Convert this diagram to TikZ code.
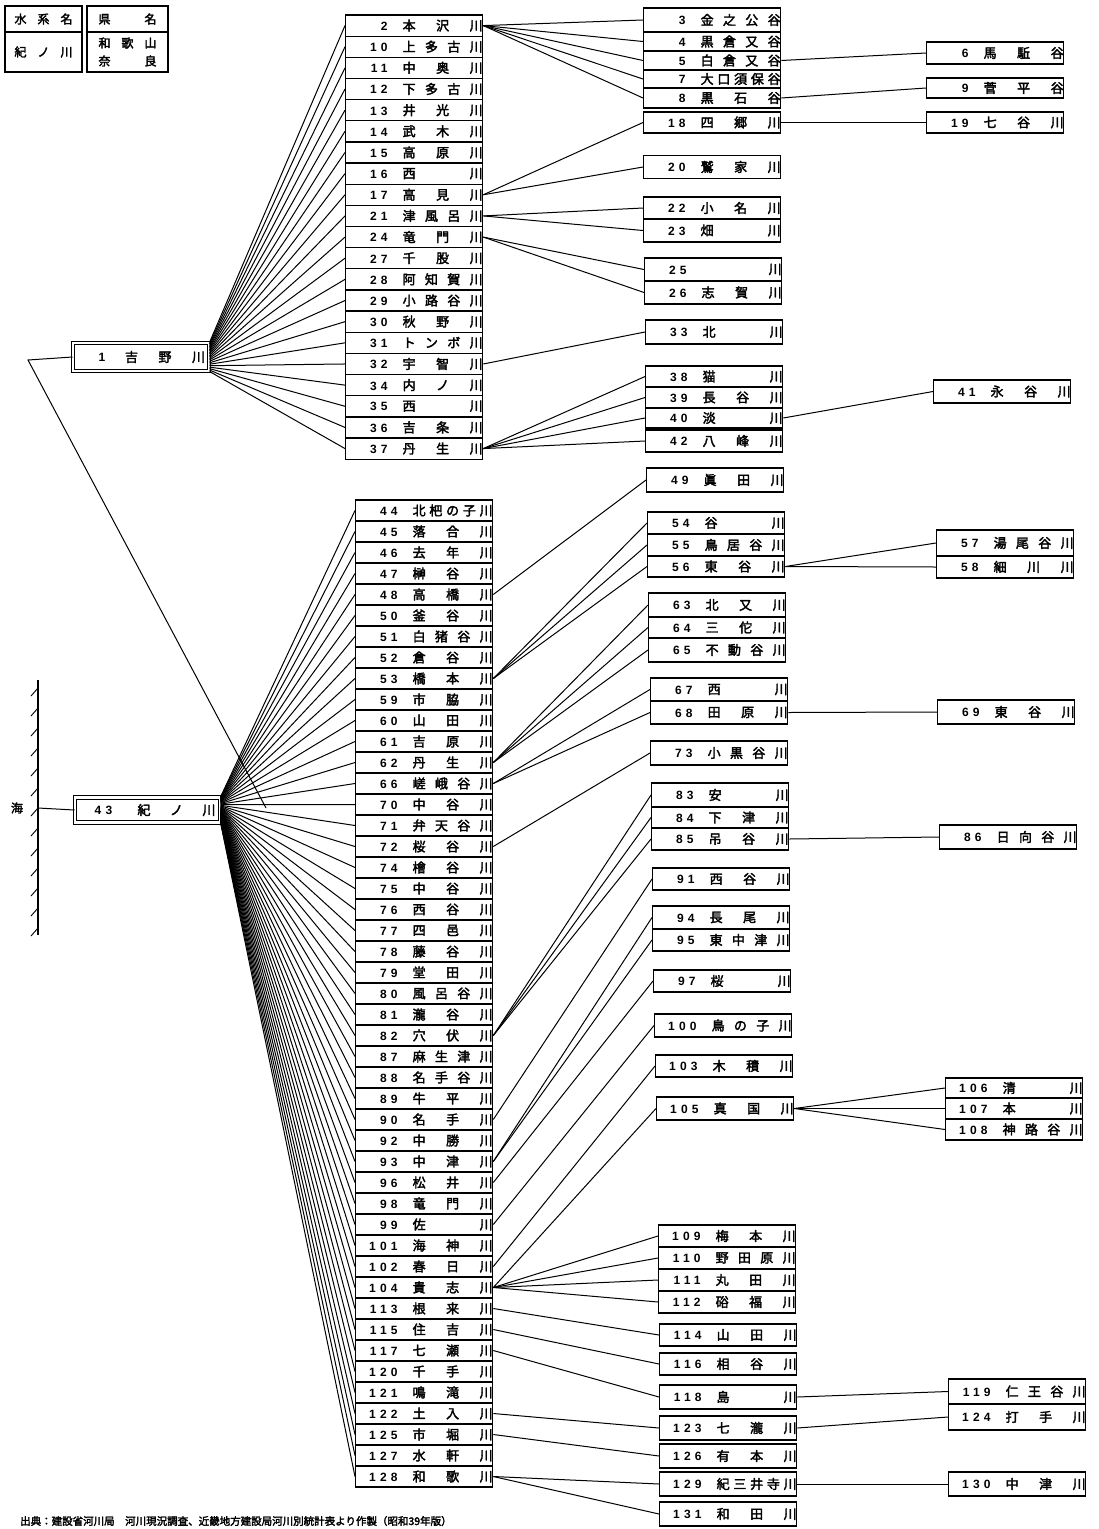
\documentclass[tikz,border=0pt]{standalone}
\usepackage{fontspec}
\setmainfont[FakeBold=2.6]{Noto Sans CJK JP}
\newfontfamily\numf[LetterSpace=35]{Liberation Sans}
\usetikzlibrary{calc}
\def\sprEnd{}
\def\spr#1{\sprA#1\sprEnd}
\def\sprA#1#2{#1\ifx\sprEnd#2\else\hfill\expandafter\sprA\expandafter#2\fi}
\newcommand\rc[2]{\makebox[42pt][r]{\numf\bfseries\fontsize{12}{12}\selectfont #1}\hspace{15pt}\makebox[80pt][s]{\expandafter\spr\expandafter{#2}}\hspace{11pt}}
\tikzset{
  cell/.style={draw, line width=1.3pt, inner sep=0pt, minimum height=21pt, anchor=west, font=\fontsize{13}{13}\selectfont},
  conn/.style={line width=1pt},
  dbl/.style={draw, double, double distance=2.2pt, line width=1pt, inner sep=0pt, font=\fontsize{13}{13}\selectfont},
  lg/.style={inner sep=0pt, font=\fontsize{12}{12}\selectfont},
}
\newcommand\bx[6]{\node[cell,minimum height=#4pt] (#1) at (#2,#3) {\rc{#5}{#6}};}
\begin{document}
\begin{tikzpicture}[x=1pt,y=-1pt]
\fill[white] (0,0) rectangle (1098,1529);
\useasboundingbox (0,0) rectangle (1098,1529);

% legend
\draw[line width=1.3pt] (5,6) rectangle (82,72);
\draw[line width=1.3pt] (87,6) rectangle (168,72);
\draw[line width=1.3pt] (5,32) -- (82,32) (87,32) -- (168,32);
\node[lg] (lg1) at (43.5,19) {\makebox[58pt][s]{\spr{水系名}}};
\node[lg] (lg2) at (43.5,52) {\makebox[58pt][s]{\spr{紀ノ川}}};
\node[lg] (lg3) at (127.5,19) {\makebox[58pt][s]{\spr{県名}}};
\node[lg] (lg4) at (127.5,43) {\makebox[58pt][s]{\spr{和歌山}}};
\node[lg] (lg5) at (127.5,61) {\makebox[58pt][s]{\spr{奈良}}};

% main rivers
\node[dbl, minimum width=136pt, minimum height=28pt] (n1) at (141,357)
  {\hspace{18pt}\makebox[14pt][c]{\numf\bfseries\fontsize{12}{12}\selectfont 1}\hspace{16pt}\makebox[80pt][s]{\spr{吉野川}}\hspace{8pt}};
\node[dbl, minimum width=145pt, minimum height=25pt] (n43) at (147.5,810)
  {\hspace{13pt}\makebox[22pt][c]{\numf\bfseries\fontsize{12}{12}\selectfont 43}\hspace{23pt}\makebox[78pt][s]{\spr{紀ノ川}}\hspace{9pt}};

% sea
\node[lg] (sea) at (17,808) {海};
\coordinate (s1) at (38,680);
\coordinate (s2) at (38,935);
\coordinate (sm) at (38,808);
\draw[line width=1.1pt] (s1) -- (s2);
\foreach \y in {688,708,...,928} \draw[line width=0.9pt] (38,\y) -- (31,\y+8);
\draw[conn] (sm) -- (n43.west);
\coordinate (cf) at (28,360);
\coordinate (jn) at (266,808);
\draw[conn] (n1.west) -- (cf) -- (jn);

% upper column (Yoshino tributaries)
\foreach \n/\nm [count=\k from 0] in {2/本沢川,10/上多古川,11/中奥川,12/下多古川,13/井光川,14/武木川,15/高原川,16/西川,17/高見川,21/津風呂川,24/竜門川,27/千股川,28/阿知賀川,29/小路谷川,30/秋野川,31/トンボ川,32/宇智川,34/内ノ川,35/西川,36/吉条川,37/丹生川}
{
  \node[cell, minimum height=21.15pt] (u\n) at (345,{15+21.15*(\k+0.5)}) {\rc{\n}{\nm}};
  \draw[conn] ([yshift={-1.45*\k}]n1.north east) -- (u\n.west);
}

% lower column (Kino tributaries)
\foreach \n/\nm [count=\k from 0] in {44/北杷の子川,45/落合川,46/去年川,47/榊谷川,48/高橋川,50/釜谷川,51/白猪谷川,52/倉谷川,53/橋本川,59/市脇川,60/山田川,61/吉原川,62/丹生川,66/嵯峨谷川,70/中谷川,71/弁天谷川,72/桜谷川,74/檜谷川,75/中谷川,76/西谷川,77/四邑川,78/藤谷川,79/堂田川,80/風呂谷川,81/瀧谷川,82/穴伏川,87/麻生津川,88/名手谷川,89/牛平川,90/名手川,92/中勝川,93/中津川,96/松井川,98/竜門川,99/佐川,101/海神川,102/春日川,104/貴志川,113/根来川,115/住吉川,117/七瀬川,120/千手川,121/鳴滝川,122/土入川,125/市堀川,127/水軒川,128/和歌川}
{
  \node[cell, minimum height=21pt] (l\n) at (355,{500+21*(\k+0.5)}) {\rc{\n}{\nm}};
  \draw[conn] ([yshift={-0.55*\k}]n43.north east) -- (l\n.west);
}

% upper right boxes
\bx{r3}{643}{20}{24}{3}{金之公谷}
\bx{r4}{643}{41.5}{19}{4}{黒倉又谷}
\bx{r5}{643}{60.5}{19}{5}{白倉又谷}
\bx{r7}{643}{79}{18}{7}{大口須保谷}
\bx{r8}{643}{98}{20}{8}{黒石谷}
\bx{r18}{643}{122.5}{21}{18}{四郷川}
\bx{r20}{643}{167}{23}{20}{鷲家川}
\bx{r22}{643}{208}{22}{22}{小名川}
\bx{r23}{643}{230.5}{23}{23}{畑川}
\bx{r25}{644}{269.5}{23}{25}{　川}
\bx{r26}{644}{292.5}{23}{26}{志賀川}
\bx{r33}{645}{332}{24}{33}{北川}
\bx{r38}{645}{376.5}{21}{38}{猫川}
\bx{r39}{645}{397.5}{21}{39}{長谷川}
\bx{r40}{645}{418}{20}{40}{淡川}
\bx{r42}{645}{441}{22}{42}{八峰川}
\bx{f6}{926}{53}{22}{6}{馬駈谷}
\bx{f9}{926}{88}{20}{9}{菅平谷}
\bx{f19}{926}{122.5}{21}{19}{七谷川}
\bx{f41}{933}{391.5}{23}{41}{永谷川}

% lower right boxes
\bx{r49}{646}{480}{24}{49}{眞田川}
\bx{r54}{647}{523}{22}{54}{谷川}
\bx{r55}{647}{545}{22}{55}{鳥居谷川}
\bx{r56}{647}{566.5}{21}{56}{東谷川}
\bx{f57}{936}{543}{26}{57}{湯尾谷川}
\bx{f58}{936}{567}{22}{58}{細川川}
\bx{r63}{648}{605}{24}{63}{北又川}
\bx{r64}{648}{627.5}{21}{64}{三佗川}
\bx{r65}{648}{650}{24}{65}{不動谷川}
\bx{r67}{650}{689.5}{23}{67}{西川}
\bx{r68}{650}{712.5}{23}{68}{田原川}
\bx{f69}{937}{712}{24}{69}{東谷川}
\bx{r73}{650}{753}{24}{73}{小黒谷川}
\bx{r83}{651}{795}{24}{83}{安川}
\bx{r84}{651}{817.5}{21}{84}{下津川}
\bx{r85}{651}{839}{22}{85}{吊谷川}
\bx{f86}{939}{837}{24}{86}{日向谷川}
\bx{r91}{652}{879}{22}{91}{西谷川}
\bx{r94}{652}{917.5}{23}{94}{長尾川}
\bx{r95}{652}{940}{22}{95}{東中津川}
\bx{r97}{653}{981}{22}{97}{桜川}
\bx{r100}{654}{1025.5}{23}{100}{鳥の子川}
\bx{r103}{655}{1066}{22}{103}{木積川}
\bx{r105}{656}{1108.5}{23}{105}{真国川}
\bx{f106}{945}{1088}{20}{106}{清川}
\bx{f107}{945}{1108.5}{21}{107}{本川}
\bx{f108}{945}{1129.5}{21}{108}{神路谷川}
\bx{r109}{658}{1236}{22}{109}{梅本川}
\bx{r110}{658}{1258}{22}{110}{野田原川}
\bx{r111}{658}{1280}{22}{111}{丸田川}
\bx{r112}{658}{1302}{22}{112}{硲福川}
\bx{r114}{659}{1335}{22}{114}{山田川}
\bx{r116}{659}{1364}{22}{116}{相谷川}
\bx{r118}{659}{1397}{24}{118}{島川}
\bx{r123}{659}{1428}{24}{123}{七瀧川}
\bx{r126}{659}{1456}{24}{126}{有本川}
\bx{r129}{659}{1484}{24}{129}{紀三井寺川}
\bx{r131}{659}{1514}{24}{131}{和田川}
\bx{f119}{948}{1391.5}{25}{119}{仁王谷川}
\bx{f124}{948}{1417}{26}{124}{打手川}
\bx{f130}{948}{1484}{24}{130}{中津川}

% upper connectors
\foreach \t in {r3,r4,r5,r7,r8} \draw[conn] (u2.east) -- (\t.west);
\draw[conn] (r5.east) -- (f6.west);
\draw[conn] (r8.east) -- (f9.west);
\draw[conn] (u17.east) -- (r18.west);
\draw[conn] (u17.east) -- (r20.west);
\draw[conn] (r18.east) -- (f19.west);
\draw[conn] (u21.east) -- (r22.west);
\draw[conn] (u21.east) -- (r23.west);
\draw[conn] (u24.east) -- (r25.west);
\draw[conn] (u24.east) -- (r26.west);
\draw[conn] (u32.east) -- (r33.west);
\foreach \t in {r38,r39,r40,r42} \draw[conn] (u37.east) -- (\t.west);
\draw[conn] (r40.east) -- (f41.west);

% lower connectors
\draw[conn] (l48.east) -- (r49.west);
\foreach \t in {r54,r55,r56} \draw[conn] (l53.east) -- (\t.west);
\draw[conn] (r56.east) -- (f57.west);
\draw[conn] (r56.east) -- (f58.west);
\foreach \t in {r63,r64,r65} \draw[conn] (l62.east) -- (\t.west);
\foreach \t in {r67,r68} \draw[conn] (l66.east) -- (\t.west);
\draw[conn] (r68.east) -- (f69.west);
\draw[conn] (l72.east) -- (r73.west);
\foreach \t in {r83,r84,r85} \draw[conn] (l82.east) -- (\t.west);
\draw[conn] (r85.east) -- (f86.west);
\draw[conn] (l90.east) -- (r91.west);
\foreach \t in {r94,r95} \draw[conn] (l93.east) -- (\t.west);
\draw[conn] (l96.east) -- (r97.west);
\draw[conn] (l99.east) -- (r100.west);
\draw[conn] (l102.east) -- (r103.west);
\foreach \t in {r105,r109,r110,r111,r112} \draw[conn] (l104.east) -- (\t.west);
\foreach \t in {f106,f107,f108} \draw[conn] (r105.east) -- (\t.west);
\draw[conn] (l113.east) -- (r114.west);
\draw[conn] (l115.east) -- (r116.west);
\draw[conn] (l117.east) -- (r118.west);
\draw[conn] (r118.east) -- (f119.west);
\draw[conn] (l122.east) -- (r123.west);
\draw[conn] (r123.east) -- (f124.west);
\draw[conn] (l125.east) -- (r126.west);
\draw[conn] (l128.east) -- (r129.west);
\draw[conn] (l128.east) -- (r131.west);
\draw[conn] (r129.east) -- (f130.west);

% source note
\node[anchor=west, inner sep=0pt, font=\fontsize{10.5}{10.5}\selectfont] (src) at (20,1521)
  {出典：建設省河川局　河川現況調査、近畿地方建設局河川別統計表より作製（昭和39年版）};
\end{tikzpicture}
\end{document}
